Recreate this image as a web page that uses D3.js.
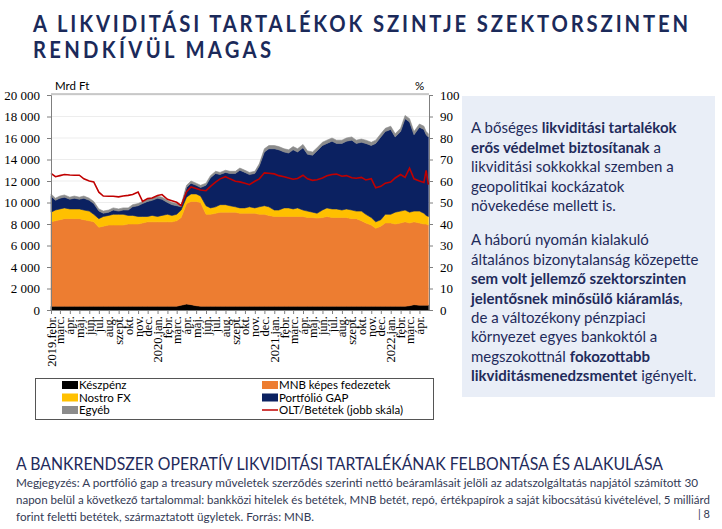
<!DOCTYPE html>
<html><head><meta charset="utf-8">
<script src="https://cdn.jsdelivr.net/npm/d3@7"></script>
<style>
html,body{margin:0;padding:0;background:#fff;}
svg{display:block;}
</style></head>
<body>
<svg id="c" width="722" height="529"></svg>
<script>
// ---------------- DATA ----------------
const dates = [
"2019-02-01","2019-02-15","2019-03-01","2019-03-15","2019-04-01","2019-04-15","2019-05-01","2019-05-15","2019-06-01","2019-06-15",
"2019-07-01","2019-07-15","2019-08-01","2019-08-15","2019-09-01","2019-09-15","2019-10-01","2019-10-15","2019-11-01","2019-11-15",
"2019-12-01","2019-12-15","2020-01-01","2020-01-15","2020-02-01","2020-02-15","2020-03-01","2020-03-15","2020-04-01","2020-04-15",
"2020-05-01","2020-05-15","2020-06-01","2020-06-15","2020-07-01","2020-07-15","2020-08-01","2020-08-15","2020-09-01","2020-09-15",
"2020-10-01","2020-10-15","2020-11-01","2020-11-15","2020-12-01","2020-12-15","2021-01-01","2021-01-15","2021-02-01","2021-02-15",
"2021-03-01","2021-03-15","2021-04-01","2021-04-15","2021-05-01","2021-05-15","2021-06-01","2021-06-15","2021-07-01","2021-07-15",
"2021-08-01","2021-08-15","2021-09-01","2021-09-15","2021-10-01","2021-10-15","2021-11-01","2021-11-15","2021-12-01","2021-12-15",
"2022-01-01","2022-01-15","2022-02-01","2022-02-15","2022-03-01","2022-03-15","2022-04-01","2022-04-15","2022-04-22","2022-04-29"];

// Készpénz (Mrd Ft)
const cash = [350,350,350,350,350,350,350,350,350,350, 350,350,350,350,350,350,350,350,350,350,
  350,350,350,350,350,350,350,450,550,500, 400,350,350,350,350,350,350,350,350,350,
  350,350,350,350,350,350,350,350,350,350, 350,350,350,350,350,350,350,350,350,350,
  350,350,350,350,350,350,350,350,350,350, 350,350,350,350,400,500,450,450,450,450];
// MNB képes fedezetek
const mnb = [7850,7950,8050,8150,8150,8150,8150,8050,7950,7850, 7350,7450,7550,7550,7550,7550,7650,7650,7650,7750,
  7850,7850,7850,7850,7850,7850,7950,8150,9350,9600, 9700,9650,8550,8550,8650,8750,8750,8750,8750,8650,
  8650,8650,8650,8550,8550,8450,8350,8350,8350,8350, 8350,8350,8350,8250,8250,8200,8250,8350,8250,8250,
  8250,8250,8150,8150,7950,7750,7550,7250,7450,7750, 7750,7650,7750,7850,7700,7700,7650,7550,7550,7450];
// Nostro FX
const nostro = [900,1000,1000,1000,900,900,900,900,900,700, 800,900,900,1000,1000,1000,800,800,700,600,
  500,600,500,600,700,600,600,700,600,700, 700,600,800,600,600,700,700,600,500,500,
  500,600,500,700,800,800,600,600,800,800, 700,800,600,600,500,450,700,800,800,800,
  700,800,800,700,900,800,700,600,600,800, 800,1100,1100,1100,1000,1000,1100,1000,800,800];
// Portfólió GAP
const gap = [1500,900,1000,1000,900,1000,900,1100,1000,1000, 700,300,300,400,300,400,500,800,1000,1200,
  1400,1400,1700,1500,1100,1000,800,300,900,1000, 800,800,1900,2800,3100,2800,3000,3000,3100,3500,
  3300,3000,3200,3800,5000,5400,5700,5600,5200,5100, 5500,5200,5800,5300,5300,5800,6000,6000,6300,6100,
  6200,6300,6500,6300,6400,6600,6700,7300,7700,7700, 7900,7000,7400,8500,8400,7100,7800,7800,7500,7400];
// Egyéb
const other = [200,200,200,200,200,200,200,200,200,200, 200,200,200,200,200,200,200,200,200,200,
  200,200,200,200,200,200,200,200,200,200, 200,200,200,200,200,200,200,200,200,200,
  200,200,200,200,300,300,300,300,300,300, 300,300,300,300,300,300,300,300,300,300,
  300,300,300,300,300,300,300,300,300,300, 300,300,300,300,300,300,300,300,300,300];
// OLT/Betétek (%, jobb skála)
const oltRatio = [63.5,62,62.5,63,62.8,62.7,62.7,61,60,59.6, 54.8,53,52.9,52.9,52.6,53,53.3,53.7,54.9,50.5,
  51.8,52.1,53.3,53.7,51.5,50.8,50.1,48.5,55,57.2, 56.5,55.8,55.5,57.5,59.5,61,62,61,59.9,59.6,
  59,58.3,59.9,61,63.8,63.6,63.3,62.5,62,61.4, 60.8,61.2,62.7,61,60.3,60.6,61.4,62.4,63,63.2,
  62.2,62.5,61.5,61.3,61.7,60.5,61.1,56.8,57.5,59, 59.5,61.4,63,61.7,66,61,60,59.3,64.9,58.3];

const tickDates = ["2019-02-01","2019-03-01","2019-04-01","2019-05-01","2019-06-01","2019-07-01","2019-08-01","2019-09-01","2019-10-01","2019-11-01","2019-12-01",
  "2020-01-01","2020-02-01","2020-03-01","2020-04-01","2020-05-01","2020-06-01","2020-07-01","2020-08-01","2020-09-01","2020-10-01","2020-11-01","2020-12-01",
  "2021-01-01","2021-02-01","2021-03-01","2021-04-01","2021-05-01","2021-06-01","2021-07-01","2021-08-01","2021-09-01","2021-10-01","2021-11-01","2021-12-01",
  "2022-01-01","2022-02-01","2022-03-01","2022-04-01"];
const tickLabels = ["2019.febr.","márc.","ápr.","máj.","jún.","júl.","aug.","szept.","okt.","nov.","dec.",
  "2020.jan.","febr.","márc.","ápr.","máj.","jún.","júl.","aug.","szept.","okt.","nov.","dec.",
  "2021.jan.","febr.","márc.","ápr.","máj.","jún.","júl.","aug.","szept.","okt.","nov.","dec.",
  "2022.jan.","febr.","márc.","ápr."];
const leftTicks = [0,2000,4000,6000,8000,10000,12000,14000,16000,18000,20000];
const rightTicks = [0,10,20,30,40,50,60,70,80,90,100];

const seriesKeys = ["cash","mnb","nostro","gap","other"];
const seriesNames = {cash:"Készpénz", mnb:"MNB képes fedezetek", nostro:"Nostro FX", gap:"Portfólió GAP", other:"Egyéb", olt:"OLT/Betétek (jobb skála)"};
const colors = {cash:"#000000", mnb:"#ED7D31", nostro:"#FFC000", gap:"#0B2161", other:"#8C8C8C", olt:"#C00000"};

// ---------------- CHART ----------------
const svg = d3.select("#c");
const parse = d3.timeParse("%Y-%m-%d");
const rows = dates.map((d,i)=>({date:parse(d), cash:cash[i], mnb:mnb[i], nostro:nostro[i], gap:gap[i], other:other[i], olt:oltRatio[i]}));

const L = 51, R = 429, T = 95, B = 310;
const x = d3.scaleTime().domain([parse("2019-02-01"), parse("2022-05-01")]).range([L, R]);
const y = d3.scaleLinear().domain([0, 20000]).range([B, T]);
const y2 = d3.scaleLinear().domain([0, 100]).range([B, T]);

// title (condensed bold, letter-spaced)
const navy = "#1B2A5A";
const sx = 0.88;
svg.append("text").attr("transform",`translate(33,32) scale(${sx},1)`).attr("font-family","Lato").attr("font-weight",700)
  .attr("font-size",23).attr("fill",navy).attr("textLength",655/sx).attr("lengthAdjust","spacing")
  .text("A LIKVIDITÁSI TARTALÉKOK SZINTJE SZEKTORSZINTEN");
svg.append("text").attr("transform",`translate(33,58) scale(${sx},1)`).attr("font-family","Lato").attr("font-weight",700)
  .attr("font-size",23).attr("fill",navy).attr("textLength",238/sx).attr("lengthAdjust","spacing")
  .text("RENDKÍVÜL MAGAS");

// gridlines
svg.append("g").selectAll("line").data(leftTicks.slice(1)).join("line")
  .attr("x1",L).attr("x2",R).attr("y1",d=>y(d)).attr("y2",d=>y(d))
  .attr("stroke","#EDEDED").attr("stroke-width",1);
svg.append("line").attr("x1",L).attr("x2",R).attr("y1",T-1).attr("y2",T-1).attr("stroke","#9a9a9a");

// stacked areas
const stack = d3.stack().keys(seriesKeys);
const stacked = stack(rows);
const area = d3.area().x(d=>x(d.data.date)).y0(d=>y(d[0])).y1(d=>y(d[1]));
svg.append("g").selectAll("path").data(stacked).join("path")
  .attr("d",area).attr("fill",d=>colors[d.key]).attr("stroke",d=>colors[d.key]).attr("stroke-width",0.6);

// red line
const line = d3.line().x(d=>x(d.date)).y(d=>y2(d.olt));
svg.append("path").datum(rows).attr("d",line).attr("fill","none").attr("stroke",colors.olt).attr("stroke-width",1.6);

// axes
const fmt = d3.formatLocale({decimal:",",thousands:" ",grouping:[3],currency:["",""]}).format(",d");
const gl = svg.append("g").attr("transform",`translate(${L},0)`)
  .call(d3.axisLeft(y).tickValues(leftTicks).tickFormat(fmt).tickSize(4).tickPadding(7));
const gr = svg.append("g").attr("transform",`translate(${R},0)`)
  .call(d3.axisRight(y2).tickValues(rightTicks).tickSize(4).tickPadding(7));
const gb = svg.append("g").attr("transform",`translate(0,${B})`)
  .call(d3.axisBottom(x).tickValues(tickDates.map(parse)).tickFormat((d,i)=>tickLabels[i]).tickSize(4).tickSizeOuter(0));
[gl,gr,gb].forEach(g=>{
  g.selectAll("path").attr("stroke","#7f7f7f");
  g.selectAll("line").attr("stroke","#7f7f7f");
  g.selectAll("text").attr("font-family","Liberation Serif").attr("font-size",13).attr("fill","#000");
});
gb.selectAll("text").attr("font-size",12.5).attr("transform","rotate(-90)")
  .attr("text-anchor","end").attr("x",-6).attr("y",0).attr("dy","0.32em");

svg.append("text").attr("x",55).attr("y",90).attr("font-family","Lato").attr("font-size",11.5).text("Mrd Ft");
svg.append("text").attr("x",415).attr("y",90).attr("font-family","Lato").attr("font-size",11.5).text("%");

// legend
svg.append("rect").attr("x",35.5).attr("y",378.5).attr("width",398).attr("height",41)
  .attr("fill","#fff").attr("stroke","#555");
const legendItems = [
  {k:"cash",col:0,row:0},{k:"mnb",col:1,row:0},
  {k:"nostro",col:0,row:1},{k:"gap",col:1,row:1},
  {k:"other",col:0,row:2},{k:"olt",col:1,row:2}];
const lg = svg.append("g").selectAll("g").data(legendItems).join("g")
  .attr("transform",d=>`translate(${d.col?262:62},${385+d.row*12.5})`);
lg.each(function(d){
  const g = d3.select(this);
  if(d.k==="olt") g.append("line").attr("x1",0).attr("x2",16).attr("y1",0).attr("y2",0).attr("stroke",colors.olt).attr("stroke-width",1.5);
  else g.append("rect").attr("x",0).attr("y",-4).attr("width",16).attr("height",8).attr("fill",colors[d.k]);
  g.append("text").attr("x",17).attr("y",4).attr("font-family","Lato").attr("font-size",11.5).attr("fill","#000").text(seriesNames[d.k]);
});

// text panel
svg.append("rect").attr("x",462).attr("y",96).attr("width",253).attr("height",301).attr("fill","#E9EEF7");
const panelLines = [
  [["A bőséges ",0],["likviditási tartalékok",1]],
  [["erős védelmet biztosítanak",1],[" a",0]],
  [["likviditási sokkokkal szemben a",0]],
  [["geopolitikai kockázatok",0]],
  [["növekedése mellett is.",0]],
  null,
  [["A háború nyomán kialakuló",0]],
  [["általános bizonytalanság közepette",0]],
  [["sem volt jellemző szektorszinten",1]],
  [["jelentősnek minősülő kiáramlás",1],[",",0]],
  [["de a változékony pénzpiaci",0]],
  [["környezet egyes bankoktól a",0]],
  [["megszokottnál ",0],["fokozottabb",1]],
  [["likviditásmenedzsmentet",1],[" igényelt.",0]]];
const panelY = [133,152.5,172,191.5,210.5,0,245,264.5,284,303.5,322.5,342,361.5,380.5];
panelLines.forEach((ln,i)=>{
  if(!ln) return;
  const t = svg.append("text").attr("x",471).attr("y",panelY[i]).attr("font-family","Lato").attr("font-size",15).attr("fill","#1F2B5B");
  ln.forEach(([s,b])=>t.append("tspan").attr("font-weight",b?700:400).text(s));
});

// footer
svg.append("text").attr("x",16).attr("y",470).attr("font-family","Lato").attr("font-size",17).attr("fill","#1F2B5B")
  .attr("textLength",647).attr("lengthAdjust","spacingAndGlyphs")
  .text("A BANKRENDSZER OPERATÍV LIKVIDITÁSI TARTALÉKÁNAK FELBONTÁSA ÉS ALAKULÁSA");
const notes = [
  "Megjegyzés: A portfólió gap a treasury műveletek szerződés szerinti nettó beáramlásait jelöli az adatszolgáltatás napjától számított 30",
  "napon belül a következő tartalommal: bankközi hitelek és betétek, MNB betét, repó, értékpapírok a saját kibocsátású kivételével, 5 milliárd",
  "forint feletti betétek, származtatott ügyletek. Forrás: MNB."];
const noteLen = [682, 694, 298];
notes.forEach((s,i)=>svg.append("text").attr("x",16).attr("y",487+i*17).attr("font-family","Lato").attr("font-size",11.5).attr("fill","#333A55")
  .attr("textLength",noteLen[i]).attr("lengthAdjust","spacingAndGlyphs").text(s));
svg.append("text").attr("x",698).attr("y",518).attr("font-family","Lato").attr("font-size",11).attr("fill","#333A55").text("| 8");
</script>
</body></html>
